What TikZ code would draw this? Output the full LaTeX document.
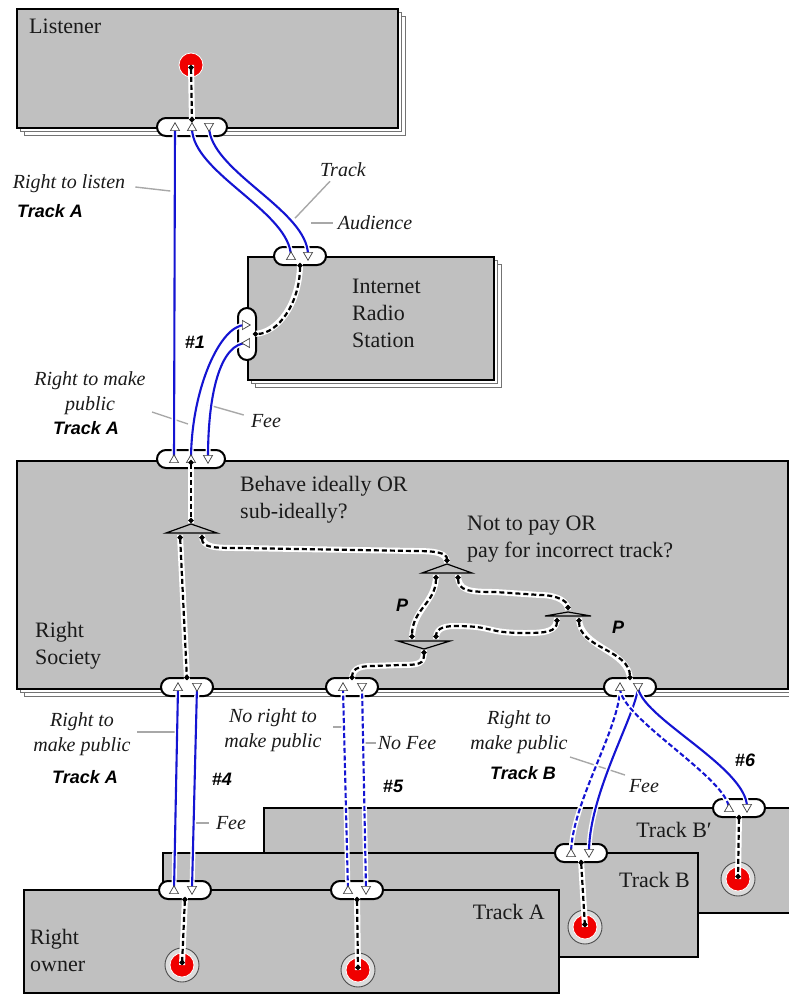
\documentclass[tikz,border=0pt]{standalone}
\usepackage{fontspec}
\setmainfont{Liberation Serif}
\setsansfont{Liberation Sans}
\usepackage{tikz}
\usetikzlibrary{arrows.meta,calc,shapes.geometric,shapes.misc,shadows}
\definecolor{panel}{HTML}{C0C0C0}
\definecolor{wireblue}{HTML}{1414D2}
\definecolor{ink}{HTML}{1A1A1A}
\definecolor{leadgray}{HTML}{A8A8A8}
\definecolor{dotred}{HTML}{F00000}
\pgfdeclarelayer{boxes}
\pgfdeclarelayer{wires}
\pgfdeclarelayer{marks}
\pgfsetlayers{boxes,main,wires,marks}
\tikzset{
  party/.style={draw=black,line width=1.6pt,fill=panel,inner sep=0pt,anchor=north west,
    double copy shadow={shadow xshift=4pt,shadow yshift=-4pt,draw=black!55,fill=white,line width=1pt}},
  trackbox/.style={draw=black,line width=1.8pt,fill=panel,inner sep=0pt,anchor=north west},
  boxtxt/.style={font=\fontsize{22}{27}\selectfont,align=left,inner sep=0pt,text=ink},
  note/.style={font=\fontsize{20}{25}\selectfont\itshape,align=center,inner sep=0pt,text=ink},
  tag/.style={font=\fontsize{18}{20}\selectfont\sffamily\bfseries\itshape,inner sep=0pt,text=black},
  port/.style={rounded rectangle,draw=black,line width=2pt,fill=white,minimum width=52pt,minimum height=18pt,inner sep=0pt},
  tri/.style={regular polygon,regular polygon sides=3,draw=black!75,fill=white,line width=0.7pt,minimum size=10.5pt,inner sep=0pt},
  tri up/.style={tri,yshift=-1pt},
  tri down/.style={tri,shape border rotate=180,yshift=1pt},
  tri right/.style={tri,shape border rotate=-90,xshift=-1pt},
  tri left/.style={tri,shape border rotate=90,xshift=1pt},
  reddot/.style={circle,fill=dotred,draw=white,line width=0.8pt,minimum size=24pt,inner sep=0pt},
  ringmark/.style={circle,draw=black!70,line width=0.9pt,fill=panel!55!white,minimum size=34pt,inner sep=0pt},
  choice/.style={draw=black,line width=1.2pt,fill=panel},
  flow/.style={draw=wireblue,line width=2.1pt,preaction={draw=white,solid,line width=5pt}},
  flow dashed/.style={flow,dash pattern=on 5pt off 2.5pt},
  sig/.style={draw=black,line width=2.2pt,dash pattern=on 5pt off 3pt,{Circle[length=5pt]}-{Circle[length=5pt]},
    preaction={draw=white,solid,line width=6pt,-}},
  leader/.style={draw=leadgray,line width=1.4pt},
}
\begin{document}
\begin{tikzpicture}[x=1pt,y=-1pt]
\useasboundingbox (0,0) rectangle (789,994);

% the parties
\begin{pgfonlayer}{boxes}
  \node[party,minimum width=381pt,minimum height=119pt] (listener) at (16,8) {};
  \node[party,minimum width=246pt,minimum height=123pt] (station) at (247,256) {};
  \node[party,minimum width=771pt,minimum height=228pt] (society) at (16,460) {};
  \node[trackbox,minimum width=535pt,minimum height=105pt] (trackBp) at (263,807) {};
  \node[trackbox,minimum width=535pt,minimum height=104pt] (trackB) at (162,852) {};
  \node[trackbox,minimum width=535pt,minimum height=103pt] (trackA) at (23,889) {};
\end{pgfonlayer}

\node[boxtxt,anchor=base west] (listenerT) at (29,33) {Listener};
\node[boxtxt,anchor=west] (stationT) at (352,313) {Internet\\Radio\\Station};
\node[boxtxt,anchor=west] (behaveT) at (240,500) {Behave ideally OR\\sub-ideally?};
\node[boxtxt,anchor=west] (payT) at (467,539) {Not to pay OR\\pay for incorrect track?};
\node[boxtxt,anchor=west] (societyT) at (35,646) {Right\\Society};
\node[boxtxt,anchor=west] (ownerT) at (30,950) {Right\\owner};
\node[boxtxt,anchor=base east] (trackAT) at (545,919) {Track A};
\node[boxtxt,anchor=base east] (trackBT) at (690,887) {Track B};
\node[boxtxt,anchor=base east] (trackBpT) at (712,837) {Track B\char"2032};

% ports
\node[port,minimum width=70pt] (lport) at (192,127) {};
\node[port] (itp) at (300,256) {};
\node[port,rotate=90] (ilp) at (247,334) {};
\node[port,minimum width=68pt] (rtp) at (191,459) {};
\node[port] (rbp1) at (187,687) {};
\node[port] (rbp2) at (352,687) {};
\node[port] (rbp3) at (630,687) {};
\node[port] (ap1) at (185,890) {};
\node[port] (ap2) at (357,890) {};
\node[port] (bp) at (581,853) {};
\node[port] (cp) at (739,808) {};

% red dots
\node[reddot] (ldot) at (191,65) {};
\node[ringmark] (rg1) at (182,965) {};
\node[reddot] (od1) at (rg1) {};
\node[ringmark] (rg2) at (358,970) {};
\node[reddot] (od2) at (rg2) {};
\node[ringmark] (rg3) at (585,927) {};
\node[reddot] (od3) at (rg3) {};
\node[ringmark] (rg4) at (738,879) {};
\node[reddot] (od4) at (rg4) {};

\begin{pgfonlayer}{marks}
  \node[tri up] (lt1) at ($(lport)+(-17,0)$) {};
  \node[tri up] (lt2) at (lport) {};
  \node[tri down] (lt3) at ($(lport)+(17,0)$) {};
  \node[tri up] (it1) at ($(itp)+(-9,0)$) {};
  \node[tri down] (it2) at ($(itp)+(8,0)$) {};
  \node[tri right] (ir1) at ($(ilp)+(-1,-9)$) {};
  \node[tri left] (ir2) at ($(ilp)+(-1,9)$) {};
  \node[tri up] (rt1) at ($(rtp)+(-17,0)$) {};
  \node[tri up] (rt2) at (rtp) {};
  \node[tri down] (rt3) at ($(rtp)+(17,0)$) {};
  \node[tri up] (rb1u) at ($(rbp1)+(-9,0)$) {};
  \node[tri down] (rb1d) at ($(rbp1)+(10,0)$) {};
  \node[tri up] (rb2u) at ($(rbp2)+(-9,0)$) {};
  \node[tri down] (rb2d) at ($(rbp2)+(10,0)$) {};
  \node[tri up] (rb3u) at ($(rbp3)+(-10,0)$) {};
  \node[tri down] (rb3d) at ($(rbp3)+(8,0)$) {};
  \node[tri up] (a1u) at ($(ap1)+(-11,0)$) {};
  \node[tri down] (a1d) at ($(ap1)+(7,0)$) {};
  \node[tri up] (a2u) at ($(ap2)+(-9,0)$) {};
  \node[tri down] (a2d) at ($(ap2)+(9,0)$) {};
  \node[tri up] (bu) at ($(bp)+(-10,0)$) {};
  \node[tri down] (bd) at ($(bp)+(8,0)$) {};
  \node[tri up] (cu) at ($(cp)+(-10,0)$) {};
  \node[tri down] (cd) at ($(cp)+(8,0)$) {};
\end{pgfonlayer}

% rights and fees
\begin{pgfonlayer}{wires}
  \draw[flow] (lt1.center) -- (rt1.center);
  \draw[flow] (lt2.center) .. controls +(0,45) and +(0,-45) .. (it1.center);
  \draw[flow] (lt3.center) .. controls +(0,45) and +(0,-45) .. (it2.center);
  \draw[flow] (ir1.center) .. controls +(-25,0) and +(0,-70) .. (rt2.center);
  \draw[flow] (ir2.center) .. controls +(-25,0) and +(0,-70) .. (rt3.center);
  \draw[flow] (rb1u.center) -- (a1u.center);
  \draw[flow] (rb1d.center) -- (a1d.center);
  \draw[flow dashed] (rb2u.center) -- (a2u.center);
  \draw[flow dashed] (rb2d.center) -- (a2d.center);
  \draw[flow dashed] (rb3u.center) .. controls +(0,40) and +(0,-50) .. (bu.center);
  \draw[flow] (rb3d.center) .. controls +(0,25) and +(0,-60) .. (bd.center);
  \draw[flow dashed] (rb3u.center) .. controls +(0,30) and +(0,-30) .. (cu.center);
  \draw[flow] (rb3d.center) .. controls +(0,30) and +(0,-40) .. (cd.center);
\end{pgfonlayer}

% labels
\node[note] (n1) at (69,184) {Right to listen};
\node[tag] (t1) at (50,211) {Track A};
\node[note] (n2) at (343,170) {Track};
\node[note] (n3) at (375,223) {Audience};
\node[tag] (t2) at (195,342) {\#1};
\node[note] (n4) at (90,393) {Right to make\\public};
\node[tag] (t3) at (86,428) {Track A};
\node[note] (n5) at (266,421) {Fee};
\node[note] (n6) at (82,734) {Right to\\make public};
\node[tag] (t4) at (85,777) {Track A};
\node[tag] (t5) at (222,779) {\#4};
\node[note] (n7) at (231,823) {Fee};
\node[note] (n8) at (273,730) {No right to\\make public};
\node[note] (n9) at (407,743) {No Fee};
\node[tag] (t6) at (393,786) {\#5};
\node[note] (n10) at (519,732) {Right to\\make public};
\node[tag] (t7) at (523,773) {Track B};
\node[note] (n11) at (644,786) {Fee};
\node[tag] (t8) at (745,760) {\#6};
\node[tag] (t9) at (402,605) {P};
\node[tag] (t10) at (618,627) {P};

\draw[leader] ([shift={(10,3)}]n1.east) -- ++(35,4);
\draw[leader] ([shift={(-13,4)}]n2.south) -- ++(-35,37);
\draw[leader] ([xshift=-5pt]n3.west) -- ++(-22,0);
\draw[leader] ([shift={(62,19)}]n4.center) -- ++(36,12);
\draw[leader] ([shift={(-7,-6)}]n5.west) -- ++(-35,-10);
\draw[leader] ([shift={(55,-2)}]n6.center) -- ++(40,0);
\draw[leader] ([xshift=-7pt]n7.west) -- ++(-17,0);
\draw[leader] ([shift={(60,-3)}]n8.center) -- ++(10,0);
\draw[leader] ([xshift=-2pt]n9.west) -- ++(-13,0);
\draw[leader] ([shift={(51,25)}]n10.center) -- ++(55,18);

% choices
\begin{pgfonlayer}{marks}
  \draw[choice] (166,533) -- (191,524) -- (217,533) -- cycle;
  \draw[choice] (422,573) -- (447,564) -- (472,573) -- cycle;
  \draw[choice] (398,641) -- (424,649) -- (450,641) -- cycle;
  \draw[choice] (545,616) -- (568,612) -- (591,616) -- cycle;
  \coordinate (q1) at (191,523);
  \coordinate (q1l) at (180,535);
  \coordinate (q1r) at (202,535);
  \coordinate (q2) at (447,563);
  \coordinate (q2l) at (436,575);
  \coordinate (q2r) at (458,575);
  \coordinate (q3) at (424,650);
  \coordinate (q3l) at (412,639);
  \coordinate (q3r) at (436,639);
  \coordinate (q4) at (568,610);
  \coordinate (q4l) at (557,618);
  \coordinate (q4r) at (579,618);

  \draw[sig] (ldot.center) -- (lt2.corner 1);
  \draw[sig] ([yshift=3pt]itp.south) .. controls +(0,40) and +(25,0) .. ([xshift=6pt]ilp.center);
  \draw[sig] (rt2.center) -- (q1);
  \draw[sig] (q1l) -- ([yshift=-3pt]rbp1.north);
  \draw[sig] (q1r) .. controls +(0,13) and +(-25,0) .. (240,548) -- (415,551) .. controls +(22,0) and +(0,-10) .. (q2);
  \draw[sig] (q2l) .. controls +(0,28) and +(0,-30) .. (q3l);
  \draw[sig] (q2r) .. controls +(0,16) and +(-25,0) .. (495,592) -- (540,595) .. controls +(18,0) and +(0,-8) .. (q4);
  \draw[sig] (q4l) .. controls +(0,14) and +(20,0) .. (525,633) .. controls +(-40,0) and +(40,0) .. (455,626) .. controls +(-15,0) and +(0,-8) .. (q3r);
  \draw[sig] (q4r) .. controls +(0,30) and +(0,-30) .. ([yshift=-3pt]rbp3.north);
  \draw[sig] (q3) .. controls +(0,14) and +(20,0) .. (400,665) -- (372,666) .. controls +(-15,0) and +(0,-10) .. ([yshift=-3pt]rbp2.north);
  \draw[sig] ([yshift=3pt]ap1.south) -- (od1.center);
  \draw[sig] ([yshift=3pt]ap2.south) -- (od2.center);
  \draw[sig] ([yshift=3pt]bp.south) -- (od3.center);
  \draw[sig] ([yshift=3pt]cp.south) -- (od4.center);
\end{pgfonlayer}
\end{tikzpicture}
\end{document}
